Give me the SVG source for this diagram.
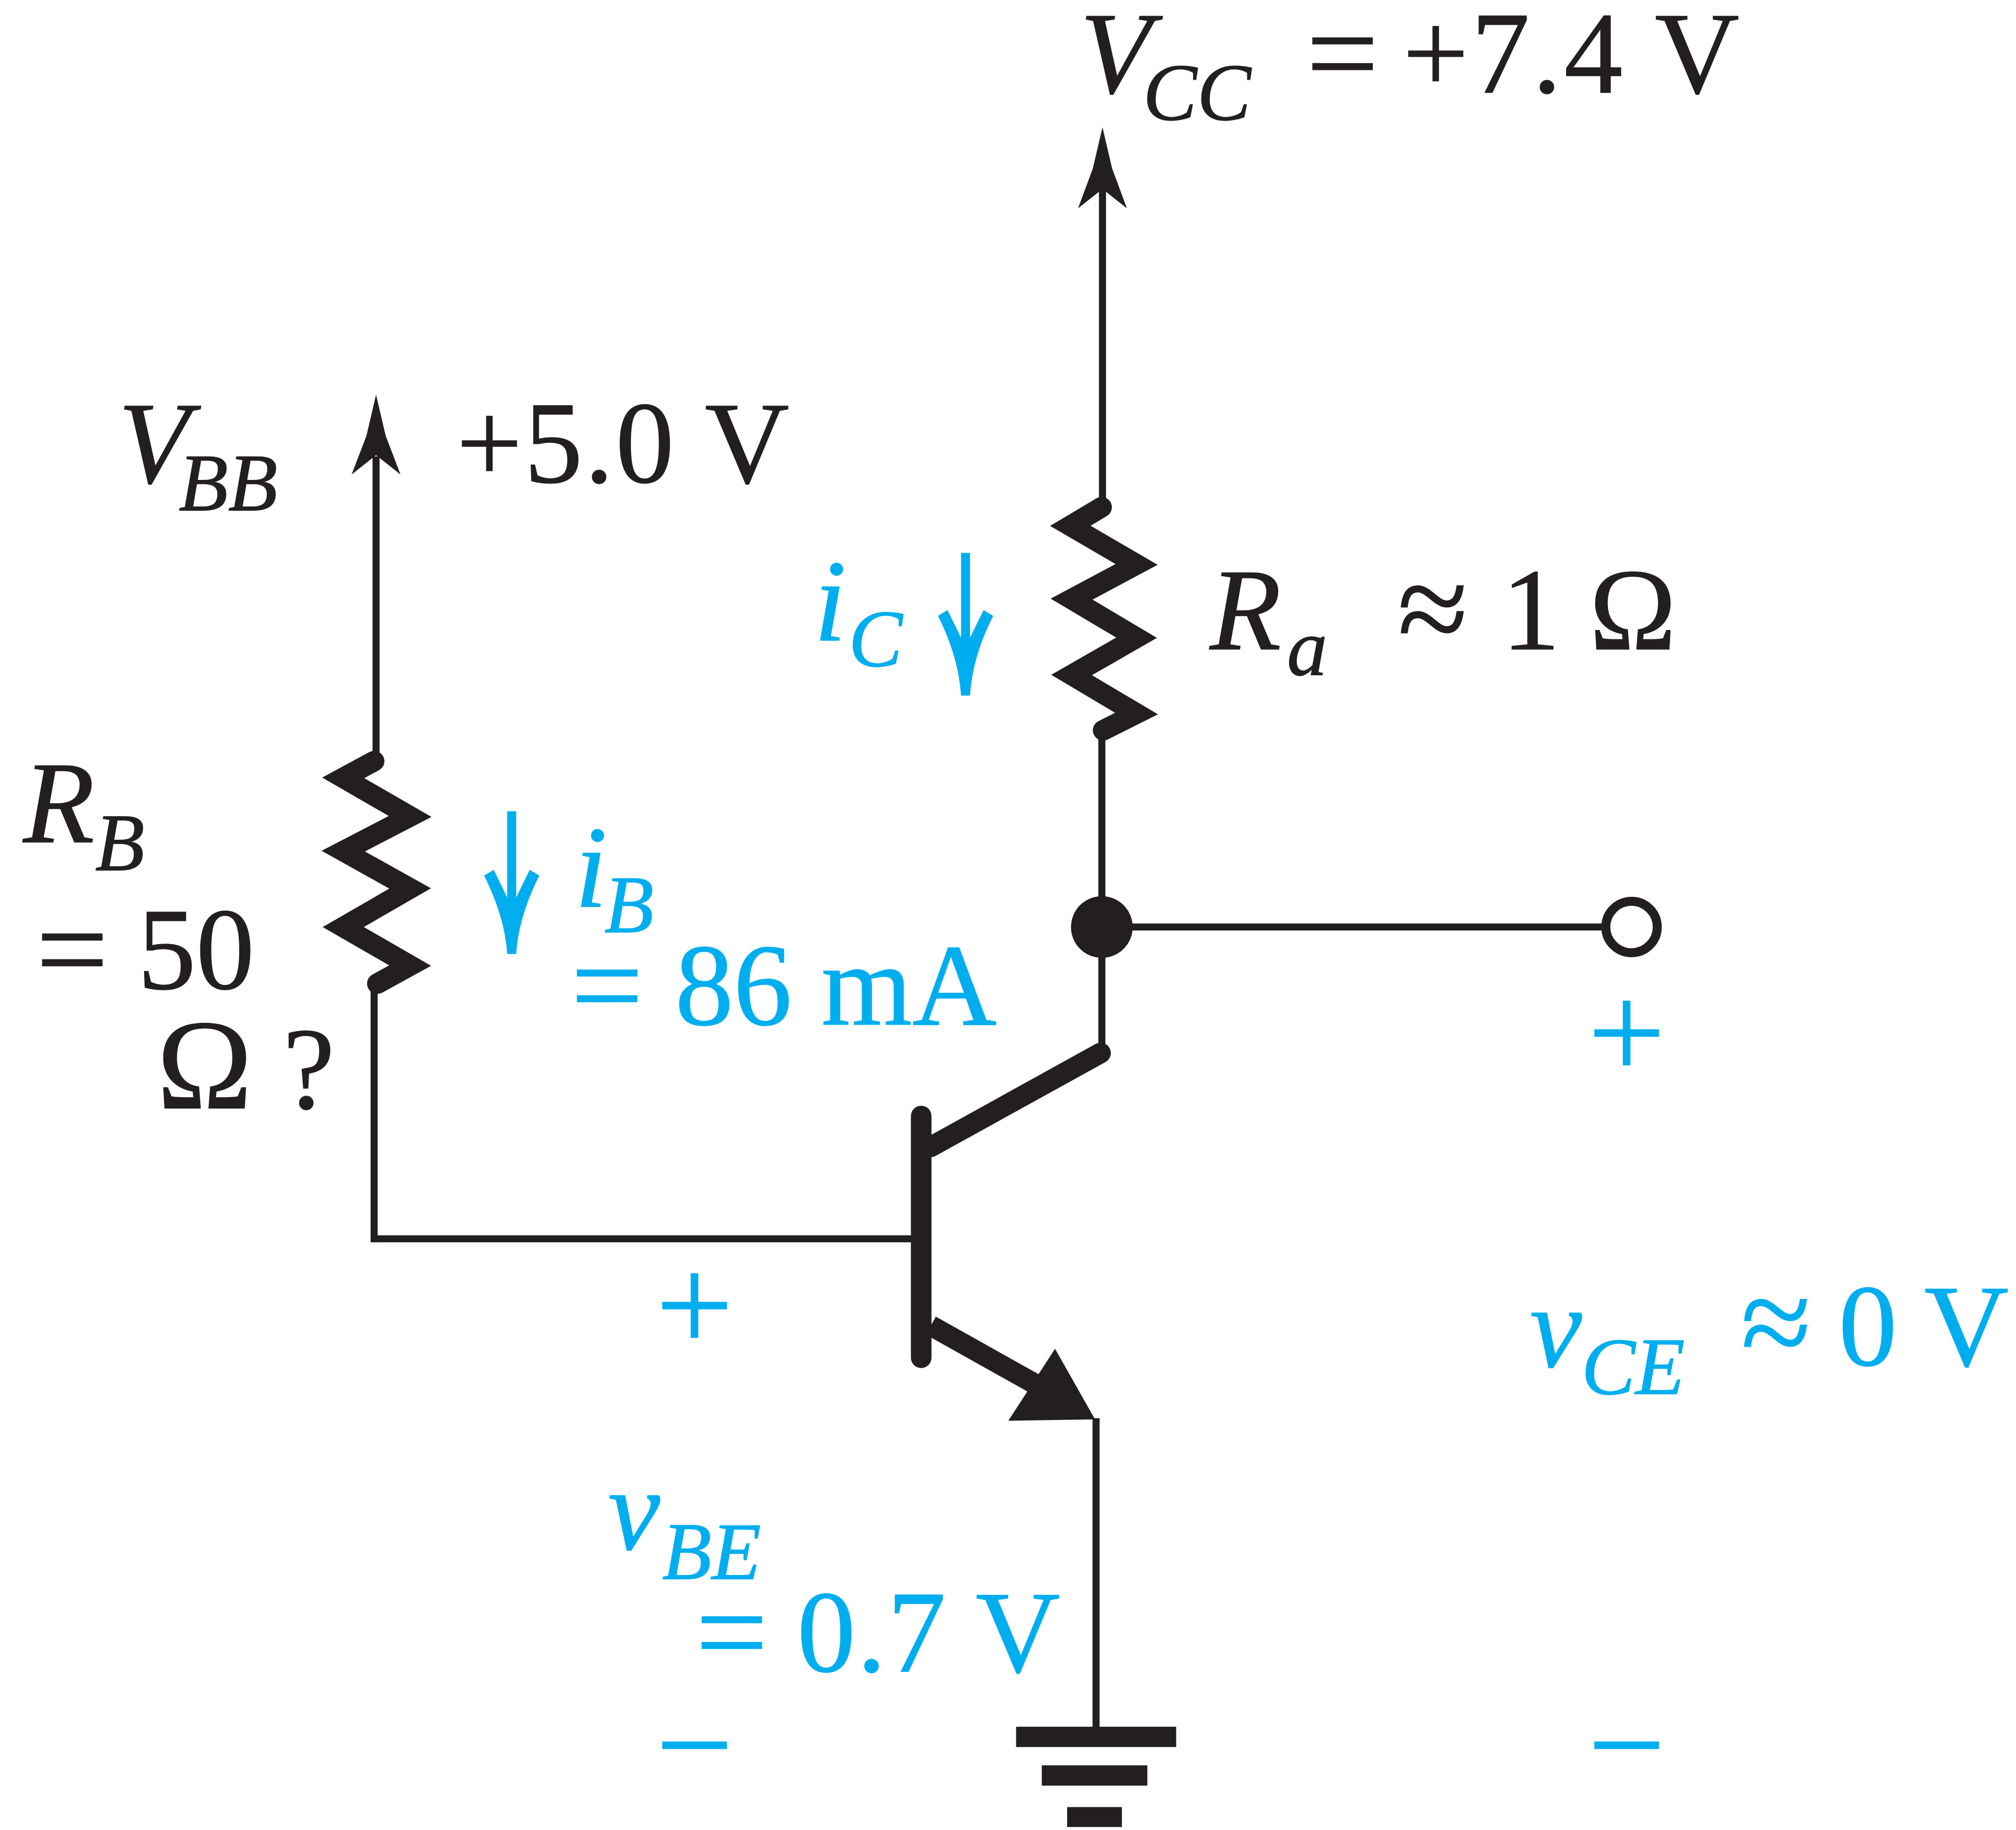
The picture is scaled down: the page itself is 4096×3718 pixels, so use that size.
<svg xmlns="http://www.w3.org/2000/svg" width="4096" height="3718" viewBox="0 0 4096 3718">
<style>
text{font-family:"Liberation Serif","Times New Roman",serif;fill:#231f20;stroke:#231f20;stroke-width:.5px;font-size:91px}
.i{font-style:italic}
.s{font-style:italic;font-size:63px}
.b{fill:#00aeef;stroke:#00aeef}
.p{font-size:107px}
.e{font-size:100px}
.x{font-size:100px}
.w{fill:none;stroke:#231f20;stroke-width:5.5}
.z{fill:none;stroke:#231f20;stroke-width:16;stroke-linejoin:miter;stroke-miterlimit:10;stroke-linecap:round}
.k{fill:#231f20}
.a{fill:#00aeef}
.l{stroke:#00aeef;stroke-width:7;fill:none}
</style>
<rect width="4096" height="3718" fill="#fff"/>
<g transform="scale(2.6122)">
<g id="connectors">
<path class="w" d="M857.5,135V395"/>
<path class="w" d="M292.5,355V592"/>
<path class="w" d="M857,568V820"/>
<path class="w" d="M857,721H1250"/>
<path class="w" d="M291,765V963.5H710"/>
<path class="w" d="M852.5,1103V1344"/>
</g>
<g id="vcc">
<path class="k" d="M857.5,99L850,131L838.500,162L857.5,147L876.5,162L865,131Z"/>
<text class="i" x="840" y="72">V</text><text class="s" x="889" y="93">CC</text>
<text class="e" x="1016" y="75">=</text><text x="1091" y="72" letter-spacing="2">+7.4 V</text>
</g>
<g id="vbb">
<path class="k" d="M292.5,307L285,339L273.500,369L292.5,354L311.5,369L300,339Z"/>
<text class="i" x="92" y="375">V</text><text class="s" x="139" y="397">BB</text>
<text x="355" y="375" letter-spacing="1.4">+5.0 V</text>
</g>
<g id="ra">
<path class="z" d="M856.8,394.5L832.5,409L884,439L833.5,466L884,496L833.5,525L884,555L858,568"/>
<text class="i" x="941" y="505">R</text><text class="s" x="1001" y="525">a</text>
<text class="x" x="1087" y="507">≈</text><text x="1168" y="505">1 Ω</text>
</g>
<g id="rb">
<path class="z" d="M291,592L267,605L319,635L267,662L319,691L267,721L319,751L293.5,765"/>
<text class="i" x="18" y="655">R</text><text class="s" x="74" y="677">B</text>
<text class="e" x="28" y="772">=</text><text x="107" y="769">50</text>
<text class="x" x="122" y="862">Ω</text><text x="220" y="862">?</text>
</g>
<g id="ic">
<path class="l" d="M751,430V505"/>
<path class="a" d="M729.5,479L737,474.500L748,497L751,497L754,497L765,474.500L772.5,479C763,498 756,518 754.500,541H747.500C746,518 739,498 729.500,479Z"/>
<text class="i b" x="633" y="498">i</text><text class="s b" x="660" y="518">C</text>
</g>
<g id="ib">
<path class="l" d="M398,631V708"/>
<path class="a" d="M376.500,681L384,676.500L395,699L398,699L401,699L412,676.500L419.500,681C410,700 403,720 401.500,742H394.500C393,720 386,700 376.500,681Z"/>
<text class="i b" x="447" y="705">i</text><text class="s b" x="470" y="725">B</text>
<text class="e b" x="444" y="800">=</text><text class="b" x="525" y="797">86 mA</text>
</g>
<g id="node"><circle class="k" cx="857" cy="721" r="24"/></g>
<g id="terminal">
<circle cx="1269" cy="721" r="20" fill="#fff" stroke="#231f20" stroke-width="7"/>
</g>
<g id="transistor">
<path d="M716.5,868V1056" stroke="#231f20" stroke-width="16" stroke-linecap="round" fill="none"/>
<path d="M724,892L856,819" stroke="#231f20" stroke-width="16" stroke-linecap="round" fill="none"/>
<path d="M724,1031L806,1077" stroke="#231f20" stroke-width="16" fill="none"/>
<path class="k" d="M820.6,1049L851.7,1104L784.3,1105Z"/>
</g>
<g id="ground">
<rect class="k" x="790.3" y="1343" width="124.500" height="15.800"/>
<rect class="k" x="810.3" y="1373" width="82.100" height="15.800"/>
<rect class="k" x="830" y="1405.500" width="42.600" height="15.500"/>
</g>
<g id="vce">
<text class="p b" x="1235" y="839">+</text>
<text class="p b" x="1235" y="1393">−</text>
<text class="i b" x="1190" y="1063">v</text><text class="s b" x="1230" y="1084">CE</text>
<text class="x b" x="1354" y="1062">≈</text><text class="b" x="1430" y="1062">0 V</text>
</g>
<g id="vbe">
<text class="p b" x="510" y="1051">+</text>
<text class="p b" x="510" y="1393">−</text>
<text class="i b" x="473" y="1205">v</text><text class="s b" x="515" y="1228">BE</text>
<text class="e b" x="541" y="1303">=</text><text class="b" x="620" y="1300" letter-spacing="1">0.7 V</text>
</g>
</g>
</svg>
